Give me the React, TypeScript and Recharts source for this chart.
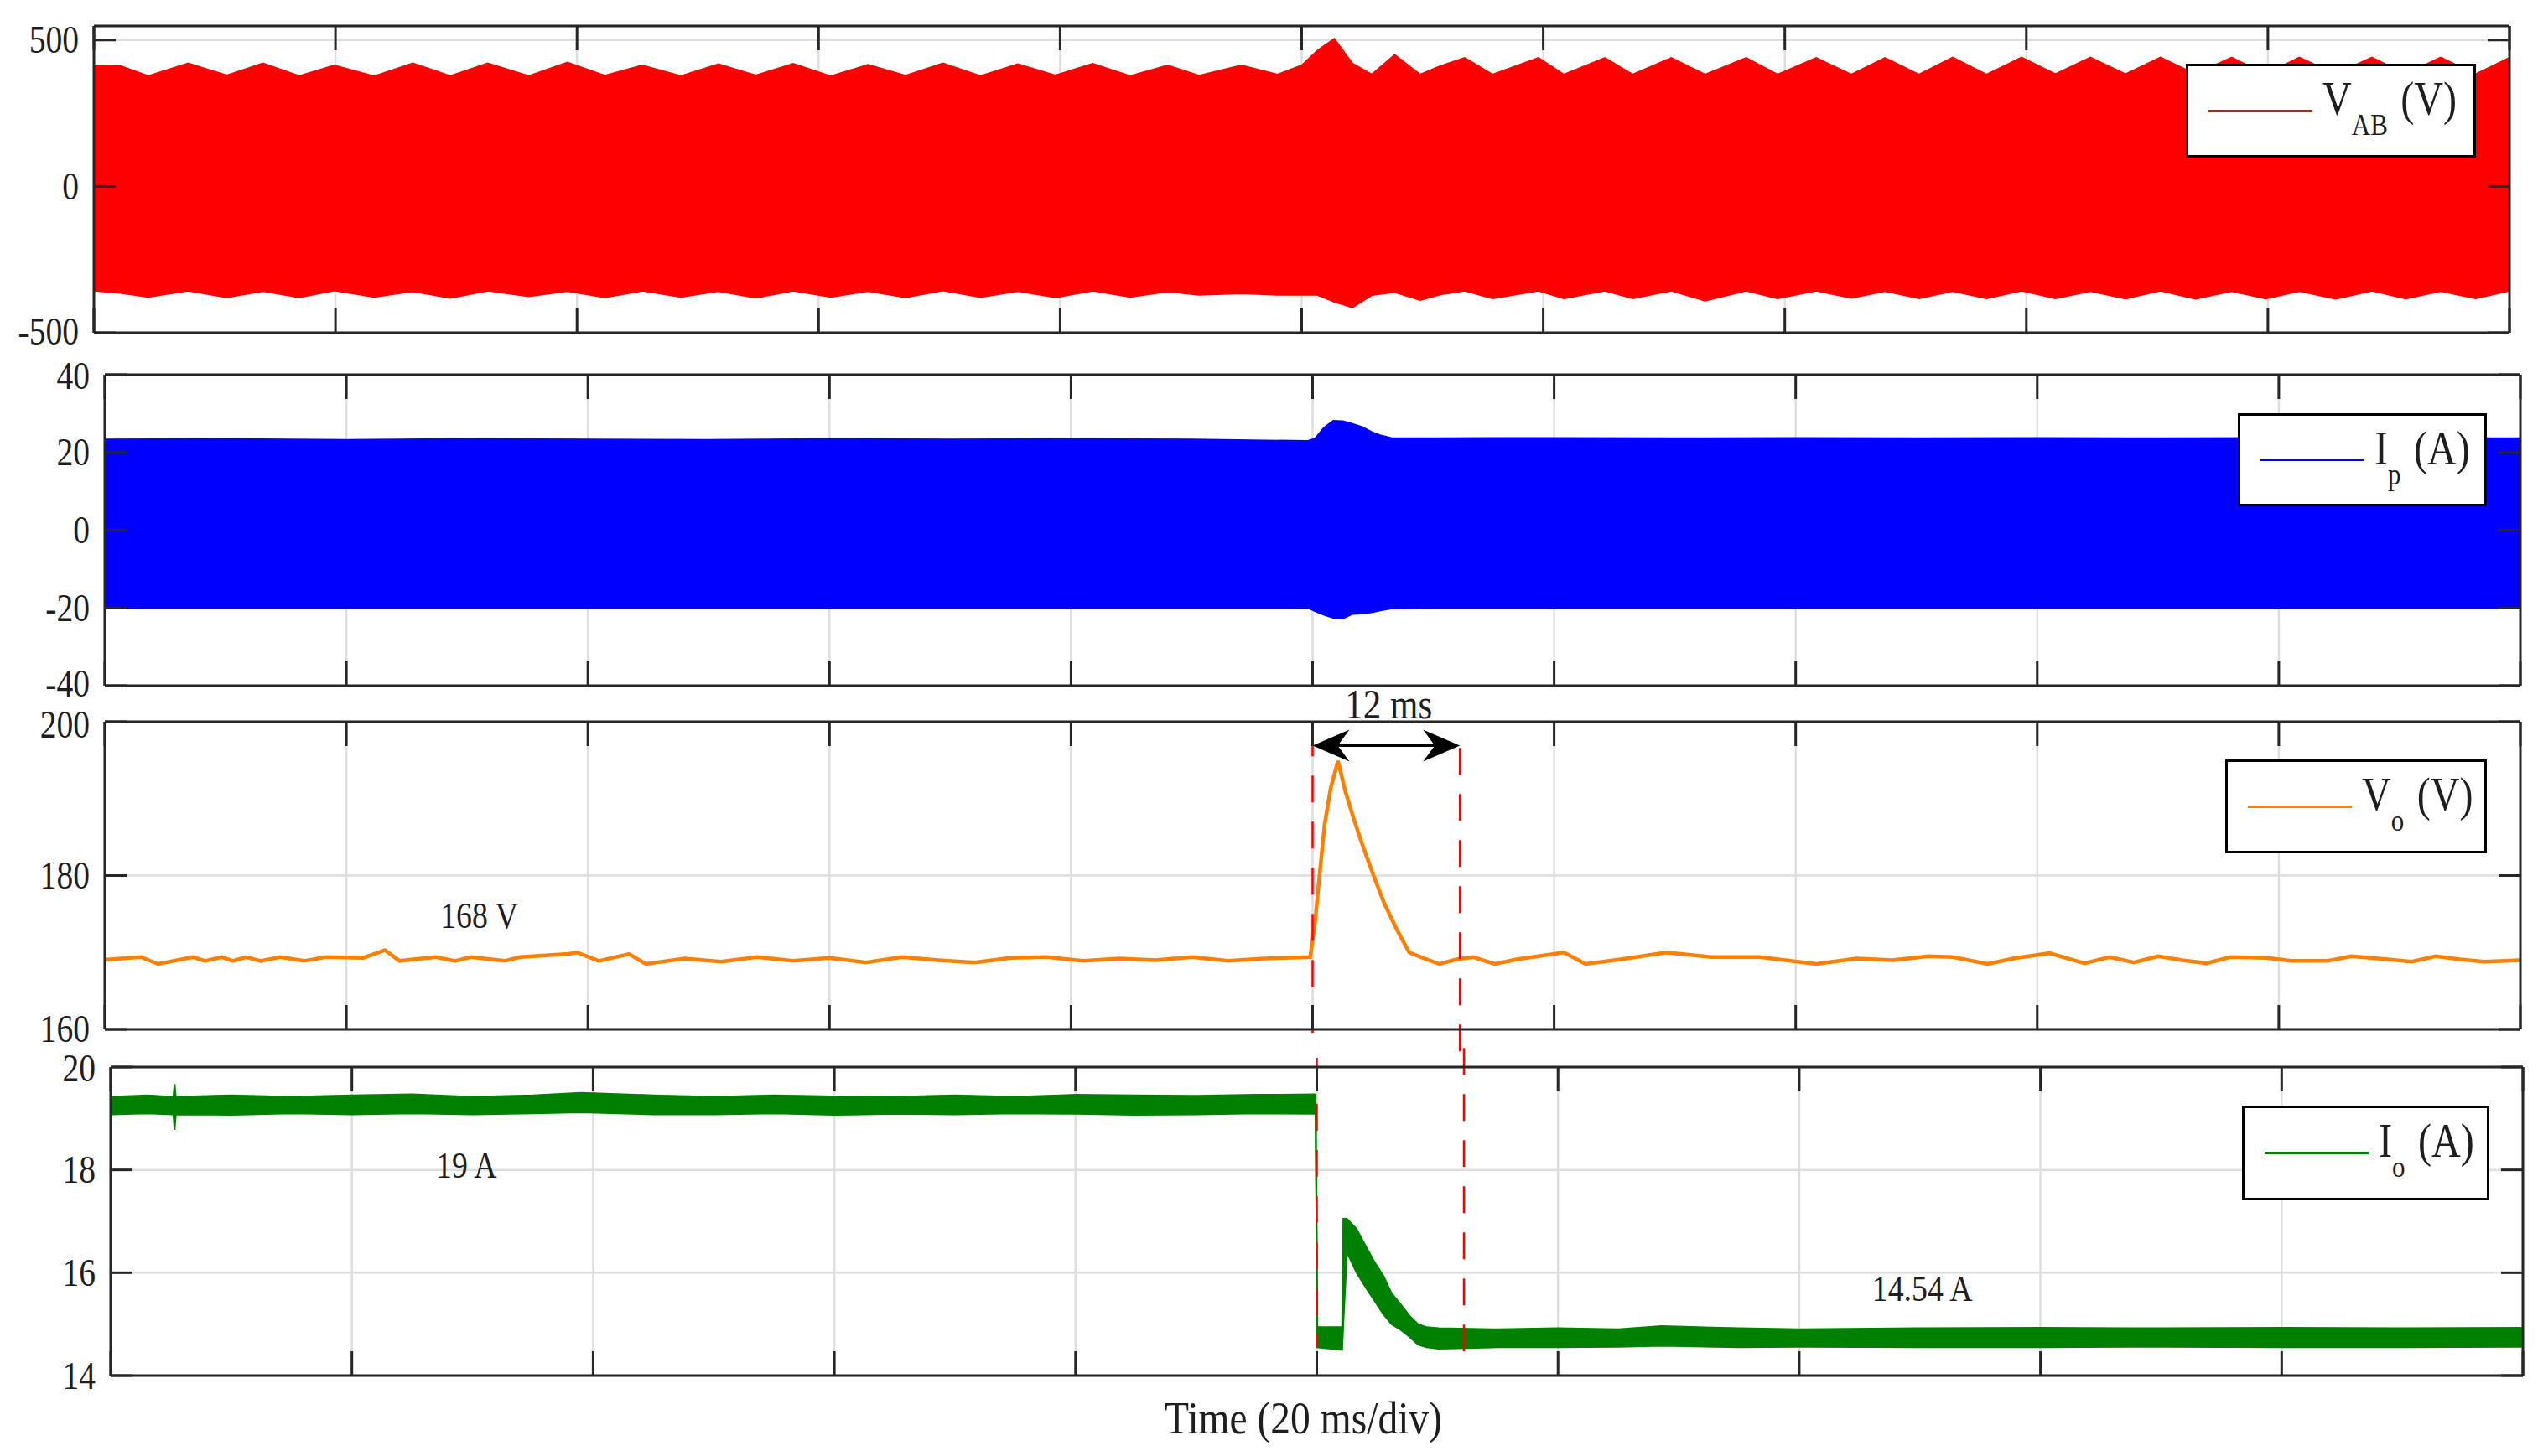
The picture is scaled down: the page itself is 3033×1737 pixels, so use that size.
import React from "react"
import { ComposedChart, Area, Line, XAxis, YAxis, CartesianGrid, ReferenceLine, ReferenceDot, Legend } from "recharts"

const W = 3033
const H = 1737
const FONT = '"Liberation Serif", "Times New Roman", serif'
const INK = "#1e1e1e"
const FRAME = "#262626"
const GRID = "#dedede"

// shared time axis (ms), 20 ms per division
const TIME_TICKS = [0, 20, 40, 60, 80, 100, 120, 140, 160, 180, 200]

// V_AB envelope (V)
const VAB_T = [0, 2.2, 4.5, 7.8, 11.0, 14.0, 17.0, 19.9, 23.2, 26.4, 29.5, 32.6, 36.0, 39.2, 42.3, 45.4, 48.6, 51.7, 54.8, 57.9, 61.0, 64.1, 67.2, 70.3, 73.4, 76.5, 79.6, 82.7, 85.8, 88.9, 91.5, 95.0, 98.0, 100.0, 101.3, 102.7, 104.2, 105.8, 107.7, 109.8, 111.5, 113.5, 115.8, 119.6, 121.7, 125.1, 127.4, 130.6, 133.4, 136.8, 139.4, 142.6, 145.5, 148.3, 151.1, 153.9, 156.7, 159.6, 162.4, 165.3, 168.2, 171.1, 174.0, 177.0, 179.8, 182.6, 185.6, 188.6, 191.4, 194.3, 197.2, 200]
const VAB_HI = [414, 412, 378, 421, 380, 421, 378, 414, 377, 421, 378, 421, 378, 424, 379, 414, 378, 418, 380, 420, 377, 416, 379, 421, 378, 418, 380, 420, 378, 414, 379, 414, 383, 414, 465, 505, 421, 383, 450, 383, 412, 440, 383, 440, 383, 440, 383, 440, 383, 440, 383, 440, 383, 440, 383, 441, 383, 441, 384, 441, 384, 441, 384, 441, 384, 441, 384, 441, 384, 441, 384, 440]
const VAB_LO = [-357, -365, -378, -357, -380, -358, -380, -356, -378, -359, -382, -357, -376, -358, -380, -357, -378, -358, -381, -357, -378, -358, -380, -356, -379, -358, -380, -357, -378, -360, -371, -366, -371, -371, -371, -395, -414, -372, -362, -389, -370, -357, -383, -357, -383, -357, -383, -357, -391, -357, -383, -357, -382, -358, -383, -358, -383, -357, -383, -358, -384, -357, -385, -358, -384, -358, -385, -357, -384, -358, -383, -357]
const VAB_TICKS = [-500, 0, 500]

// I_P envelope (A)
const IP_T = [0, 10, 20, 30, 40, 50, 60, 70, 80, 90, 99.6, 100.2, 100.9, 101.7, 102.5, 103.3, 104.1, 104.9, 105.6, 106.5, 110, 120, 130, 140, 150, 160, 170, 180, 190, 200]
const IP_HI = [23.4, 23.5, 23.3, 23.5, 23.4, 23.3, 23.5, 23.4, 23.5, 23.4, 23.0, 23.6, 26.3, 28.2, 28.1, 27.4, 26.6, 25.3, 24.5, 23.8, 23.7, 23.8, 23.7, 23.8, 23.7, 23.8, 23.7, 23.8, 23.7, 23.7]
const IP_LO = [-20.0, -20.0, -20.0, -20.0, -20.0, -20.0, -20.0, -20.0, -20.0, -20.0, -20.0, -20.9, -21.8, -22.6, -22.8, -21.6, -21.5, -21.2, -20.7, -20.2, -20.0, -20.0, -20.0, -20.0, -20.0, -20.0, -20.0, -20.0, -20.0, -20.0]
const IP_TICKS = [-40, -20, 0, 20, 40]

// V_o (V)
const VO_T = [0, 3.0, 4.4, 7.3, 8.3, 9.7, 10.6, 11.7, 12.9, 14.5, 16.5, 18.3, 21.4, 23.2, 24.4, 27.4, 29.0, 30.3, 33.1, 34.4, 38.4, 39.1, 40.9, 43.4, 44.8, 48, 51, 54, 57, 60, 63, 66, 69, 72, 75, 78, 81, 84, 87, 90, 93, 96, 99.8, 100.2, 100.6, 101.0, 101.5, 102.1, 102.7, 103.4, 104.1, 105.0, 105.9, 107.0, 108.0, 109.1, 110.5, 111.9, 113.3, 115.1, 116.9, 120.8, 122.6, 125.5, 129.3, 133, 137, 141.7, 145, 148, 151, 153, 155.9, 158, 161, 163.9, 166, 168, 170, 172, 174, 176, 179, 181, 184, 186, 189, 191, 193, 195, 197, 200]
const VO = [169.05, 169.4, 168.5, 169.4, 168.9, 169.4, 168.9, 169.4, 168.9, 169.4, 168.9, 169.4, 169.3, 170.3, 168.9, 169.4, 168.9, 169.4, 168.9, 169.4, 169.8, 170.0, 168.9, 169.8, 168.5, 169.2, 168.8, 169.4, 168.9, 169.3, 168.7, 169.4, 169.0, 168.7, 169.3, 169.4, 168.9, 169.2, 169.0, 169.4, 168.9, 169.2, 169.4, 173.9, 180.5, 186.7, 191.4, 194.9, 191.0, 187.4, 184.1, 180.2, 176.5, 172.9, 170.0, 169.3, 168.5, 169.1, 169.4, 168.5, 169.1, 170.0, 168.5, 169.1, 170.0, 169.4, 169.4, 168.5, 169.2, 169.0, 169.5, 169.4, 168.5, 169.2, 169.9, 168.6, 169.4, 168.7, 169.5, 169.0, 168.6, 169.4, 169.3, 168.9, 168.9, 169.5, 169.1, 168.8, 169.5, 169.1, 168.8, 169.0]
const VO_TICKS = [160, 180, 200]

// I_o band (A)
const IO_T = [0, 3, 5.2, 5.3, 5.4, 10, 15, 20, 25, 30, 35, 39, 45, 50, 55, 60, 65, 70, 75, 80, 85, 90, 95, 99.9, 100.05, 102.1, 102.2, 102.5, 103.3, 104.1, 104.8, 105.5, 106.2, 106.9, 107.7, 108.4, 109.1, 110.1, 115, 120, 125, 128.6, 135, 140, 150, 160, 170, 180, 190, 200]
const IO_HI = [19.42, 19.45, 19.42, 19.67, 19.42, 19.45, 19.42, 19.45, 19.47, 19.42, 19.45, 19.5, 19.45, 19.42, 19.45, 19.43, 19.42, 19.45, 19.42, 19.46, 19.45, 19.44, 19.46, 19.47, 14.94, 14.94, 17.05, 17.05, 16.85, 16.5, 16.2, 15.95, 15.6, 15.4, 15.16, 15.0, 14.94, 14.92, 14.9, 14.92, 14.9, 14.96, 14.92, 14.9, 14.92, 14.93, 14.92, 14.93, 14.92, 14.93]
const IO_LO = [19.08, 19.10, 19.08, 18.78, 19.08, 19.07, 19.10, 19.08, 19.10, 19.08, 19.10, 19.12, 19.08, 19.08, 19.10, 19.07, 19.09, 19.08, 19.10, 19.09, 19.07, 19.08, 19.10, 19.09, 14.55, 14.50, 15.0, 16.4, 16.0, 15.7, 15.45, 15.2, 15.0, 14.9, 14.75, 14.6, 14.55, 14.52, 14.55, 14.55, 14.56, 14.58, 14.55, 14.56, 14.55, 14.55, 14.56, 14.55, 14.55, 14.56]
const IO_TICKS = [14, 16, 18, 20]

const vabData = VAB_T.map((t, i) => ({ t, band: [VAB_LO[i], VAB_HI[i]] }))
const ipData = IP_T.map((t, i) => ({ t, band: [IP_LO[i], IP_HI[i]] }))
const voData = VO_T.map((t, i) => ({ t, v: VO[i] }))
const ioData = IO_T.map((t, i) => ({ t, band: [IO_LO[i], IO_HI[i]] }))

// axes are 1px thick (recharts skips drawing 0-sized axes), so the plot box sits 1px inside the margin
const xMark = (dir: number) => (p: any) => (
  <line x1={p.x} y1={p.y} x2={p.x} y2={p.y + dir * 29} stroke={FRAME} strokeWidth={3} />
)

// nudge: small vertical shifts for labels that sit at a panel edge next to the neighbour panel's label
const yLeftTick = (nudge: Record<number, number> = {}) => (p: any) => (
  <g>
    <line x1={p.x} y1={p.y} x2={p.x + 26} y2={p.y} stroke={FRAME} strokeWidth={3} />
    <text transform={`translate(${p.x - 18},${p.y + (nudge[p.payload.value] || 0)}) scale(0.86,1)`} textAnchor="end"
      dominantBaseline="central" fontFamily={FONT} fontSize={46} fill={INK}>{p.payload.value}</text>
  </g>
)

const yRightTick = (p: any) => (
  <line x1={p.x} y1={p.y} x2={p.x - 26} y2={p.y} stroke={FRAME} strokeWidth={3} />
)

const note = (text: string, size = 44) => (p: any) => (
  <text transform={`translate(${p.cx},${p.cy}) scale(0.86,1)`} textAnchor="middle" dominantBaseline="central"
    fontFamily={FONT} fontSize={size} fill={INK}>{text}</text>
)

const arrowShape = (p: any) => {
  const { x1, x2, y1 } = p
  const y = y1
  return (
    <g>
      <line x1={x1 + 20} y1={y} x2={x2 - 20} y2={y} stroke="#000" strokeWidth={3} />
      <polygon points={`${x1},${y} ${x1 + 44},${y - 19} ${x1 + 30},${y} ${x1 + 44},${y + 19}`} fill="#000" />
      <polygon points={`${x2},${y} ${x2 - 44},${y - 19} ${x2 - 30},${y} ${x2 - 44},${y + 19}`} fill="#000" />
    </g>
  )
}

const timeTitle = (p: any) => {
  const vb = p.viewBox
  return (
    <text transform={`translate(${vb.x + vb.width / 2 - 16},${vb.y + 69}) scale(0.88,1)`} textAnchor="middle"
      fontFamily={FONT} fontSize={54} fill={INK}>Time (20 ms/div)</text>
  )
}

function LegendBox({ color, main, sub, unit, width, height }: any) {
  return (
    <div style={{ boxSizing: "border-box", width, height, border: "3px solid #000", background: "#fff", position: "relative" }}>
      <div style={{ position: "absolute", left: 24, top: (height - 6) / 2 - 1.5, width: 124, height: 3, background: color }} />
      <div style={{
        position: "absolute", left: 160, top: 11, fontFamily: FONT, fontSize: 56, lineHeight: "56px",
        whiteSpace: "nowrap", transform: "scaleX(0.86)", transformOrigin: "left center", color: INK
      }}>
        {main}
        <span style={{ fontSize: 36, position: "relative", top: 24 }}>{sub}</span>
        <span style={{ marginLeft: 18 }}>{unit}</span>
      </div>
    </div>
  )
}

function frame(domain: number[], ticks: number[], nudge: Record<number, number> = {}, title = false) {
  return [
    <CartesianGrid key="g" xAxisId="b" yAxisId="l" stroke={GRID} strokeWidth={2.5} />,
    <XAxis key="xb" xAxisId="b" dataKey="t" type="number" domain={[0, 200]} ticks={TIME_TICKS} interval={0}
      height={1} tickSize={0} tickMargin={0} tickLine={false} tick={xMark(-1)}
      axisLine={{ stroke: FRAME, strokeWidth: 3 }}
      label={title ? { value: "Time (20 ms/div)", content: timeTitle } : undefined} />,
    <XAxis key="xt" xAxisId="t" orientation="top" dataKey="t" type="number" domain={[0, 200]} ticks={TIME_TICKS} interval={0}
      height={1} tickSize={0} tickMargin={0} tickLine={false} tick={xMark(1)}
      axisLine={{ stroke: FRAME, strokeWidth: 3 }} />,
    <YAxis key="yl" yAxisId="l" type="number" domain={domain} ticks={ticks} interval={0} allowDataOverflow
      width={1} tickSize={0} tickMargin={0} tickLine={false} tick={yLeftTick(nudge)}
      axisLine={{ stroke: FRAME, strokeWidth: 3 }} />,
    <YAxis key="yr" yAxisId="r" orientation="right" type="number" domain={domain} ticks={ticks} interval={0} allowDataOverflow
      width={1} tickSize={0} tickMargin={0} tickLine={false} tick={yRightTick}
      axisLine={{ stroke: FRAME, strokeWidth: 3 }} />,
  ]
}

function legendFor(color: string, main: string, sub: string, unit: string, left: number, top: number, width: number, height: number) {
  return (
    <Legend layout="vertical" align="center" verticalAlign="middle"
      wrapperStyle={{ left, top, right: "auto", bottom: "auto", width, height }}
      content={() => <LegendBox color={color} main={main} sub={sub} unit={unit} width={width} height={height} />} />
  )
}

function Panel({ data, box, children }: any) {
  return (
    <div style={{ position: "absolute", left: 0, top: 0 }}>
      <ComposedChart width={W} height={H} data={data}
        margin={{ left: box.l - 1, right: W - box.r - 1, top: box.t - 1, bottom: H - box.b - 1 }}>
        {children}
      </ComposedChart>
    </div>
  )
}

export default function App() {
  return (
    <div style={{ position: "absolute", left: 0, top: 0, width: W, height: H, background: "#fff", overflow: "hidden" }}>
      <Panel data={vabData} box={{ l: 112, r: 2993, t: 31, b: 397 }}>
        {frame([-500, 548], VAB_TICKS, { [-500]: -2 })}
        <Area xAxisId="b" yAxisId="l" type="linear" dataKey="band" name="VAB" stroke="#ff0000" strokeWidth={1.5}
          fill="#ff0000" fillOpacity={1} dot={false} activeDot={false} isAnimationActive={false} />
        {legendFor("#ff0000", "V", "AB", "(V)", 2607, 76, 346, 112)}
      </Panel>

      <Panel data={ipData} box={{ l: 125, r: 3006, t: 447, b: 818 }}>
        {frame([-40, 40], IP_TICKS, { [-40]: -3, 40: 1 })}
        <Area xAxisId="b" yAxisId="l" type="linear" dataKey="band" name="Ip" stroke="#0000ff" strokeWidth={1.5}
          fill="#0000ff" fillOpacity={1} dot={false} activeDot={false} isAnimationActive={false} />
        {legendFor("#0000ff", "I", "p", "(A)", 2669, 493, 297, 111)}
      </Panel>

      <Panel data={voData} box={{ l: 125, r: 3006, t: 861, b: 1228 }}>
        {frame([160, 200], VO_TICKS, { 200: 3, 160: -1 })}
        <Line xAxisId="b" yAxisId="l" type="linear" dataKey="v" name="Vo" stroke="#ff8000" strokeWidth={4.5}
          dot={false} activeDot={false} isAnimationActive={false} />
        <ReferenceDot xAxisId="b" yAxisId="l" x={31} y={174.8} ifOverflow="visible" shape={note("168 V")} />
        <ReferenceDot xAxisId="b" yAxisId="l" x={106.3} y={202.3} ifOverflow="visible" shape={note("12 ms", 50)} />
        <ReferenceLine xAxisId="b" yAxisId="l" ifOverflow="visible" segment={[{ x: 100, y: 199.0 }, { x: 100, y: 158.9 }]}
          stroke="#ff0000" strokeWidth={2.5} strokeDasharray="32 23" />
        <ReferenceLine xAxisId="b" yAxisId="l" ifOverflow="visible" segment={[{ x: 112.2, y: 196.6 }, { x: 112.2, y: 157.1 }]}
          stroke="#ff0000" strokeWidth={2.5} strokeDasharray="32 23" />
        <ReferenceLine xAxisId="b" yAxisId="l" ifOverflow="visible" segment={[{ x: 100, y: 196.9 }, { x: 112.2, y: 196.9 }]}
          shape={arrowShape} />
        {legendFor("#ff8000", "V", "o", "(V)", 2654, 906, 312, 112)}
      </Panel>

      <Panel data={ioData} box={{ l: 132, r: 3009, t: 1273, b: 1641 }}>
        {frame([14, 20], IO_TICKS, { 20: 1 }, true)}
        <Area xAxisId="b" yAxisId="l" type="linear" dataKey="band" name="Io" stroke="#008000" strokeWidth={2}
          fill="#008000" fillOpacity={1} dot={false} activeDot={false} isAnimationActive={false} />
        <ReferenceDot xAxisId="b" yAxisId="l" x={29.5} y={18.09} ifOverflow="visible" shape={note("19 A")} />
        <ReferenceDot xAxisId="b" yAxisId="l" x={150.2} y={15.7} ifOverflow="visible" shape={note("14.54 A")} />
        <ReferenceLine xAxisId="b" yAxisId="l" ifOverflow="visible" segment={[{ x: 100, y: 20.18 }, { x: 100, y: 14.54 }]}
          stroke="#ff0000" strokeWidth={2.5} strokeDasharray="32 23" />
        <ReferenceLine xAxisId="b" yAxisId="l" ifOverflow="visible" segment={[{ x: 112.2, y: 20.37 }, { x: 112.2, y: 14.26 }]}
          stroke="#ff0000" strokeWidth={2.5} strokeDasharray="32 23" />
        {legendFor("#008000", "I", "o", "(A)", 2674, 1319, 295, 113)}
      </Panel>
    </div>
  )
}
